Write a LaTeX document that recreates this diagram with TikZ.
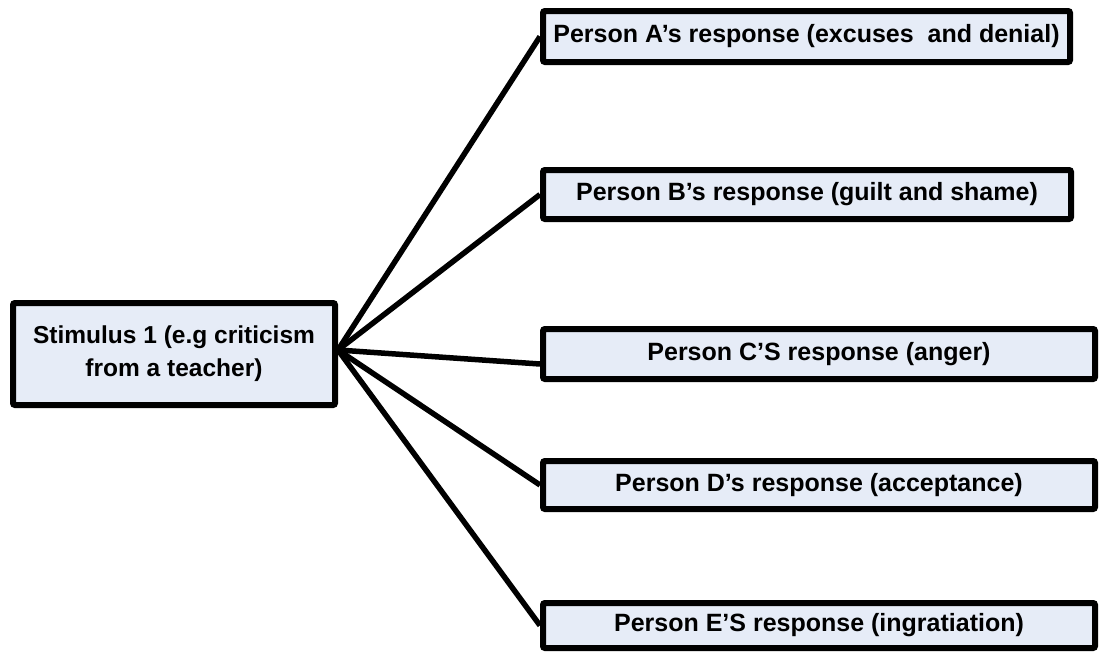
\documentclass[tikz,border=0pt]{standalone}
\usepackage{fontspec}
\setmainfont{Liberation Sans}
\definecolor{boxfill}{RGB}{230,236,247}
\tikzset{
  respbox/.style={draw=black, fill=boxfill, line width=6pt, rounded corners=2pt,
    inner sep=0pt, align=center, font=\bfseries\fontsize{25}{33}\selectfont},
  link/.style={line width=5.5pt, black}
}
\begin{document}
\begin{tikzpicture}[x=1pt,y=-1pt]
\useasboundingbox (0,0) rectangle (1100,653);
\node[respbox, minimum width=322pt, minimum height=102pt,
  font=\bfseries\fontsize{24.5}{33}\selectfont] (S) at (174,354)
  {Stimulus 1 (e.g criticism\\from a teacher)};
\node[respbox, minimum width=527pt, minimum height=51pt] (A) at (806.5,36.5)
  {Person A’s response (excuses\ \ and denial)};
\node[respbox, minimum width=528pt, minimum height=49pt] (B) at (807,194.5)
  {Person B’s response (guilt and shame)};
\node[respbox, minimum width=552pt, minimum height=50pt] (C) at (819,354)
  {Person C’S response (anger)};
\node[respbox, minimum width=552pt, minimum height=48pt] (D) at (819,485)
  {Person D’s response (acceptance)};
\node[respbox, minimum width=552pt, minimum height=45pt] (E) at (819,625.5)
  {Person E’S response (ingratiation)};
\coordinate (hub) at ([yshift=4pt]S.east);
\draw[link] (hub) -- (A.west);
\draw[link] (hub) -- (B.west);
\draw[link] (hub) -- ([yshift=-10pt]C.west);
\draw[link] (hub) -- (D.west);
\draw[link] (hub) -- (E.west);
\end{tikzpicture}
\end{document}
